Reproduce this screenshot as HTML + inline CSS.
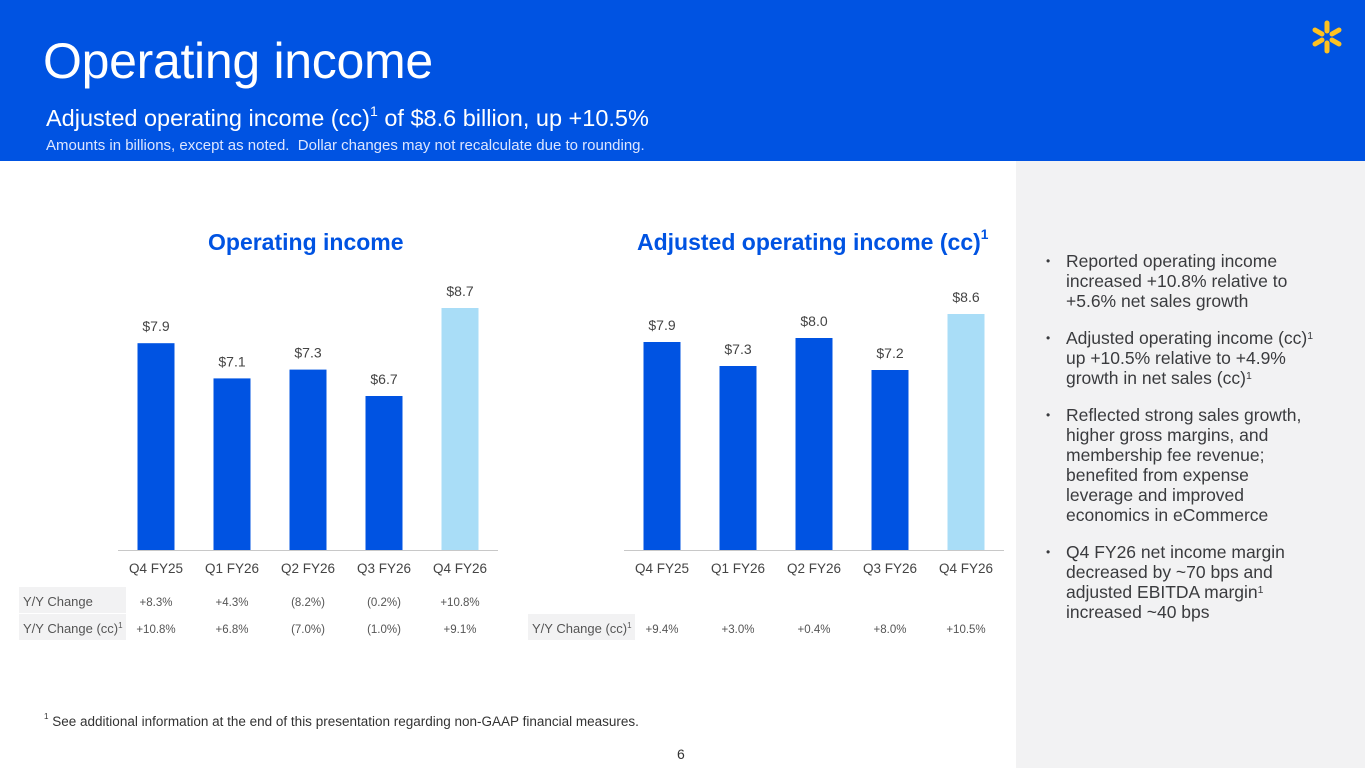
<!DOCTYPE html>
<html><head><meta charset="utf-8"><style>
*{margin:0;padding:0;box-sizing:border-box}
body{width:1365px;height:768px;position:relative;background:#fff;font-family:"Liberation Sans",sans-serif;overflow:hidden;color:#2e2f32}
.hdr{position:absolute;left:0;top:0;width:1365px;height:161px;background:#0053e2}
.t1{position:absolute;left:43px;top:32px;font-size:50px;color:#fff;letter-spacing:-0.3px}
.t2{position:absolute;left:46px;top:105px;font-size:23.5px;color:#fff}
.t3{position:absolute;left:46px;top:137px;font-size:15px;color:#dde6ff}
sup{font-size:60%;vertical-align:top;position:relative;top:-2px}
.side{position:absolute;left:1016px;top:161px;width:349px;height:607px;background:#f2f2f3}
.bul{position:absolute;left:1066px;white-space:nowrap;font-size:17.5px;line-height:20px;color:#3a3b3e}
.bul:before{content:"•";position:absolute;left:-20px;font-size:12px}
.ct{position:absolute;font-size:23px;font-weight:bold;color:#0053e2}
.foot{position:absolute;left:44px;top:714px;font-size:13.5px;color:#333}
.pg{position:absolute;left:677px;top:746px;font-size:14px;color:#333}
</style></head><body>
<div class="hdr"></div>
<div class="t1">Operating income</div>
<div class="t2">Adjusted operating income (cc)<sup>1</sup> of $8.6 billion, up +10.5%</div>
<div class="t3">Amounts in billions, except as noted.&nbsp; Dollar changes may not recalculate due to rounding.</div>
<svg style="position:absolute;left:1309px;top:19px" width="36" height="36">
<g stroke="#ffc220" stroke-width="5" stroke-linecap="round">
<line x1="18" y1="12" x2="18" y2="4"/><line x1="18" y1="24" x2="18" y2="32"/>
<line x1="13" y1="15" x2="6" y2="11"/><line x1="23" y1="15" x2="30" y2="11"/>
<line x1="13" y1="21" x2="6" y2="25"/><line x1="23" y1="21" x2="30" y2="25"/></g></svg>
<div class="side"></div>
<div class="bul" style="top:251px">Reported operating income<br>increased +10.8% relative to<br>+5.6% net sales growth</div>
<div class="bul" style="top:328px">Adjusted operating income (cc)<sup>1</sup><br>up +10.5% relative to +4.9%<br>growth in net sales (cc)<sup>1</sup></div>
<div class="bul" style="top:405px">Reflected strong sales growth,<br>higher gross margins, and<br>membership fee revenue;<br>benefited from expense<br>leverage and improved<br>economics in eCommerce</div>
<div class="bul" style="top:542px">Q4 FY26 net income margin<br>decreased by ~70 bps and<br>adjusted EBITDA margin<sup>1</sup><br>increased ~40 bps</div>
<div class="ct" style="left:208px;top:229px">Operating income</div>
<div class="ct" style="left:637px;top:229px">Adjusted operating income (cc)<sup>1</sup></div>
<svg id="ch" width="1016" height="700" style="position:absolute;left:0;top:0"></svg>
<div class="foot"><sup>1</sup> See additional information at the end of this presentation regarding non-GAAP financial measures.</div>
<div class="pg">6</div>
<script>
const categories=["Q4 FY25","Q1 FY26","Q2 FY26","Q3 FY26","Q4 FY26"];
const opIncome=[7.9,7.1,7.3,6.7,8.7];
const adjOpIncome=[7.9,7.3,8.0,7.2,8.6];
const opYoY=["+8.3%","+4.3%","(8.2%)","(0.2%)","+10.8%"];
const opYoYcc=["+10.8%","+6.8%","(7.0%)","(1.0%)","+9.1%"];
const adjYoYcc=["+9.4%","+3.0%","+0.4%","+8.0%","+10.5%"];
const NS="http://www.w3.org/2000/svg",svg=document.getElementById("ch");
function mk(t,a,txt){const e=document.createElementNS(NS,t);for(const k in a)e.setAttribute(k,a[k]);if(txt!=null)e.textContent=txt;svg.appendChild(e);return e;}
function chart(x0,vals,base,scale,prefix){
 const xs=i=>x0+i*76, ys=v=>550-(v-base)*scale;
 const ax=mk("line",{x1:x0-38,x2:x0+342,y1:550.5,y2:550.5,stroke:"#c8c8c8"});
 
 vals.forEach((v,i)=>{
  const r=mk("rect",{x:xs(i)-18.5,y:ys(v),width:37,height:550-ys(v),fill:i==vals.length-1?"#a9ddf7":"#0053e2"});
  
  const l=mk("text",{x:xs(i),y:ys(v)-12,"text-anchor":"middle","font-size":"14",fill:"#444"},"$"+v.toFixed(1));
  
  const c=mk("text",{x:xs(i),y:573,"text-anchor":"middle","font-size":"13.5",fill:"#444"},categories[i]);
  
 });
}
chart(156,opIncome,3.2,44,"op");
chart(662,adjOpIncome,2.7,40,"adj");
function row(x0,lx,lw,y,label,vals,name){
 const b=mk("rect",{x:lx,y:y-14,width:lw,height:26,fill:"#f2f2f3"});
 
 const t=mk("text",{x:lx+4,y:y+5,"font-size":"13",fill:"#555"});
 t.innerHTML=label;
 
 vals.forEach((v,i)=>{const e=mk("text",{x:x0+i*76,y:y+5,"text-anchor":"middle","font-size":"11.5",fill:"#555"},v);
 });
}
row(156,19,107,601,"Y/Y Change",opYoY,"op-yoy");
row(156,19,107,628,'Y/Y Change (cc)<tspan font-size="8" dy="-5">1</tspan>',opYoYcc,"op-yoy-cc");
row(662,528,107,628,'Y/Y Change (cc)<tspan font-size="8" dy="-5">1</tspan>',adjYoYcc,"adj-yoy-cc");
</script>
</body></html>
